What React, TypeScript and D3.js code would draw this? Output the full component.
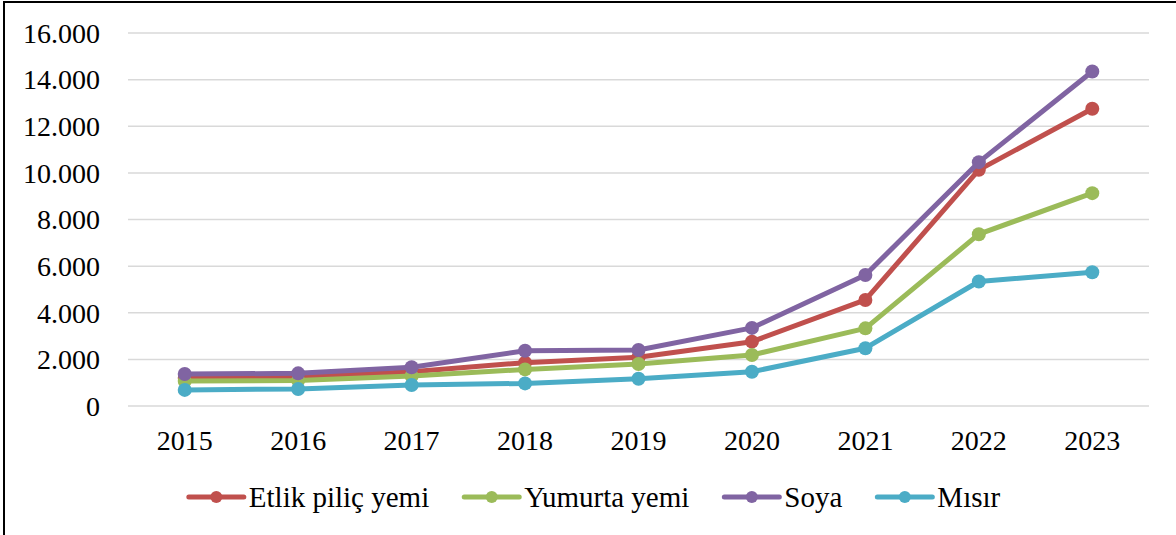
import React from "react";
import * as d3 from "d3";

const YEARS = ["2015", "2016", "2017", "2018", "2019", "2020", "2021", "2022", "2023"];
const ETLIK = [1200, 1240, 1470, 1860, 2090, 2760, 4550, 10130, 12750];
const YUMURTA = [1070, 1090, 1290, 1570, 1800, 2190, 3330, 7370, 9130];
const SOYA = [1370, 1400, 1660, 2370, 2400, 3350, 5620, 10460, 14350];
const MISIR = [690, 730, 900, 970, 1170, 1470, 2480, 5340, 5740];
const Y_TICKS = [0, 2000, 4000, 6000, 8000, 10000, 12000, 14000, 16000];

const SERIES = [
  { name: "Etlik piliç yemi", values: ETLIK, color: "#c0504d" },
  { name: "Yumurta yemi", values: YUMURTA, color: "#9bbb59" },
  { name: "Soya", values: SOYA, color: "#8064a2" },
  { name: "Mısır", values: MISIR, color: "#4bacc6" },
];

const W = 1176;
const H = 535;
const FONT = "'Liberation Serif'";
const FS = 28;
const LEGEND_FS = 29;

// 16.000 style labels
const fmt = (v: number) => (v === 0 ? "0" : d3.format(",")(v).replace(/,/g, "."));

const measure = (s: string) => {
  const ctx = document.createElement("canvas").getContext("2d");
  if (!ctx) return s.length * LEGEND_FS * 0.42;
  ctx.font = `${LEGEND_FS}px ${FONT}`;
  return ctx.measureText(s).width;
};

const x = d3.scalePoint<string>().domain(YEARS).range([128, 1149]).padding(0.5);
const y = d3.scaleLinear().domain([0, 16000]).range([406, 33]);
const line = d3.line<number>().x((_, i) => x(YEARS[i])!).y(d => y(d));

const textStyle: React.CSSProperties = { fontFamily: FONT, fontSize: FS, fill: "#000" };
const legendStyle: React.CSSProperties = { fontFamily: FONT, fontSize: LEGEND_FS, fill: "#000" };

const App: React.FC = () => {
  // legend layout: line 55px, 5px gap, text, 35px between items, centred
  const widths = SERIES.map(s => 60 + measure(s.name));
  const gap = 35;
  const total = d3.sum(widths) + gap * (SERIES.length - 1);
  const starts = widths.map((_, i) => 594.5 - total / 2 + d3.sum(widths.slice(0, i)) + gap * i);

  return (
    <div style={{ position: "absolute", left: 0, top: 0 }}>
      <svg width={W} height={H} style={{ display: "block" }}>
        <rect x={4} y={2} width={W + 10} height={H + 10} fill="white" stroke="#000" strokeWidth={2} />

        {Y_TICKS.map(t => (
          <line key={t} x1={128} x2={1149} y1={y(t)} y2={y(t)} stroke="#d9d9d9" strokeWidth={1.5} />
        ))}
        {Y_TICKS.map(t => (
          <text key={t} x={100} y={y(t)} dy="0.35em" textAnchor="end" style={textStyle}>{fmt(t)}</text>
        ))}
        {YEARS.map(yr => (
          <text key={yr} x={x(yr)} y={450} textAnchor="middle" style={textStyle}>{yr}</text>
        ))}

        {SERIES.map(s => (
          <g key={s.name}>
            <path d={line(s.values) ?? ""} fill="none" stroke={s.color} strokeWidth={5} strokeLinejoin="round" />
            {s.values.map((v, i) => (
              <circle key={i} cx={x(YEARS[i])} cy={y(v)} r={7} fill={s.color} />
            ))}
          </g>
        ))}

        {SERIES.map((s, i) => (
          <g key={s.name} transform={`translate(${starts[i]},497)`}>
            <line x1={0} x2={55} y1={0} y2={0} stroke={s.color} strokeWidth={5} strokeLinecap="round" />
            <circle cx={27.5} cy={0} r={6} fill={s.color} />
            <text x={60} y={0} dy="0.35em" style={legendStyle}>{s.name}</text>
          </g>
        ))}
      </svg>
    </div>
  );
};

export default App;
